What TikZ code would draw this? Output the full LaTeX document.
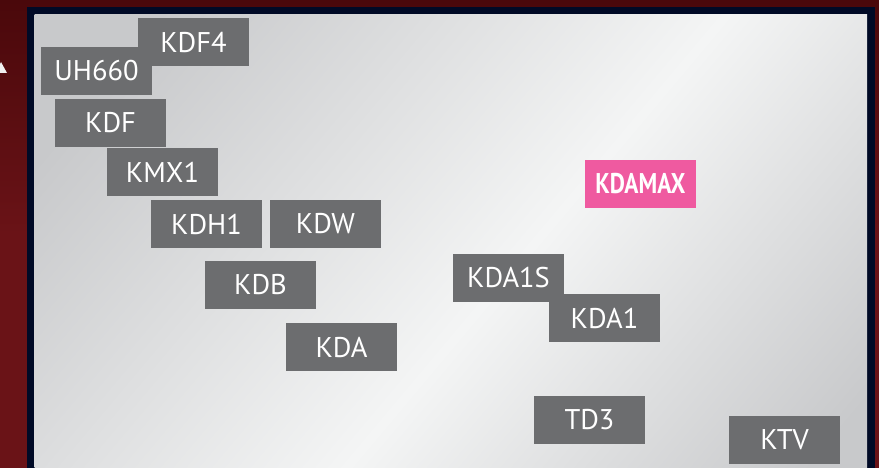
\documentclass[tikz,border=0pt]{standalone}
\usepackage{fontspec}
\setmainfont{PT Sans}
\newfontfamily\condfont[FakeStretch=0.82]{PT Sans}
\usepackage{tikz}
\usetikzlibrary{shadings}

\definecolor{bgred}{HTML}{6A1317}
\definecolor{bgdark}{HTML}{4A080B}
\definecolor{framenavy}{HTML}{000A26}
\definecolor{silverdark}{HTML}{C8C9CB}
\definecolor{silverlight}{HTML}{F4F5F5}
\definecolor{boxgray}{HTML}{6C6D6F}
\definecolor{boxpink}{HTML}{EF5AA0}

\pgfdeclarehorizontalshading{silverband}{100bp}{color(0bp)=(silverdark); color(22bp)=(silverdark); color(55bp)=(silverlight); color(82bp)=(silverdark); color(100bp)=(silverdark)}

\tikzset{
	modelbox/.style={fill=boxgray, text=white, minimum width=111pt, minimum height=48pt, inner sep=0pt, font=\fontsize{28.5}{30}\selectfont},
	hotbox/.style={modelbox, fill=boxpink, font=\fontsize{28.5}{30}\selectfont\condfont\bfseries}
}

\begin{document}
\begin{tikzpicture}[x=1pt, y=-1pt]
		%%%%% START %%%%%
		
		\useasboundingbox (0, 0) rectangle (879, 468);
		\shade[top color=bgdark, bottom color=bgred, middle color=bgred] (0, 0) rectangle (879, 468);
		\fill[white!88!gray] (-4, 73) -- (7, 73) -- (1, 62) -- cycle;
		
		\fill[framenavy] (27, 7) rectangle (875, 468);
		\shade[shading=silverband, shading angle=-40] (34.5, 14.5) rectangle (867, 468);
		
		\node[modelbox] (kdf4) at (193.5, 42) {KDF4};
		\node[modelbox] (uh660) at (96.5, 71) {UH660};
		\node[modelbox] (kdf) at (110.5, 123) {KDF};
		\node[modelbox] (kmx1) at (162.5, 172) {KMX1};
		\node[modelbox] (kdh1) at (206.5, 224) {KDH1};
		\node[modelbox] (kdw) at (325.5, 224) {KDW};
		\node[modelbox] (kdb) at (260.5, 285) {KDB};
		\node[modelbox] (kda) at (341.5, 347) {KDA};
		
		\node[hotbox] (kdamax) at (640.5, 184) {KDAMAX};
		\node[modelbox] (kda1s) at (508.5, 278) {KDA1S};
		\node[modelbox] (kda1) at (604.5, 318) {KDA1};
		
		\node[modelbox] (td3) at (589.5, 420) {TD3};
		\node[modelbox] (ktv) at (784.5, 439.5) {KTV};
		
		%%%%% END %%%%%
	\end{tikzpicture}
\end{document}
